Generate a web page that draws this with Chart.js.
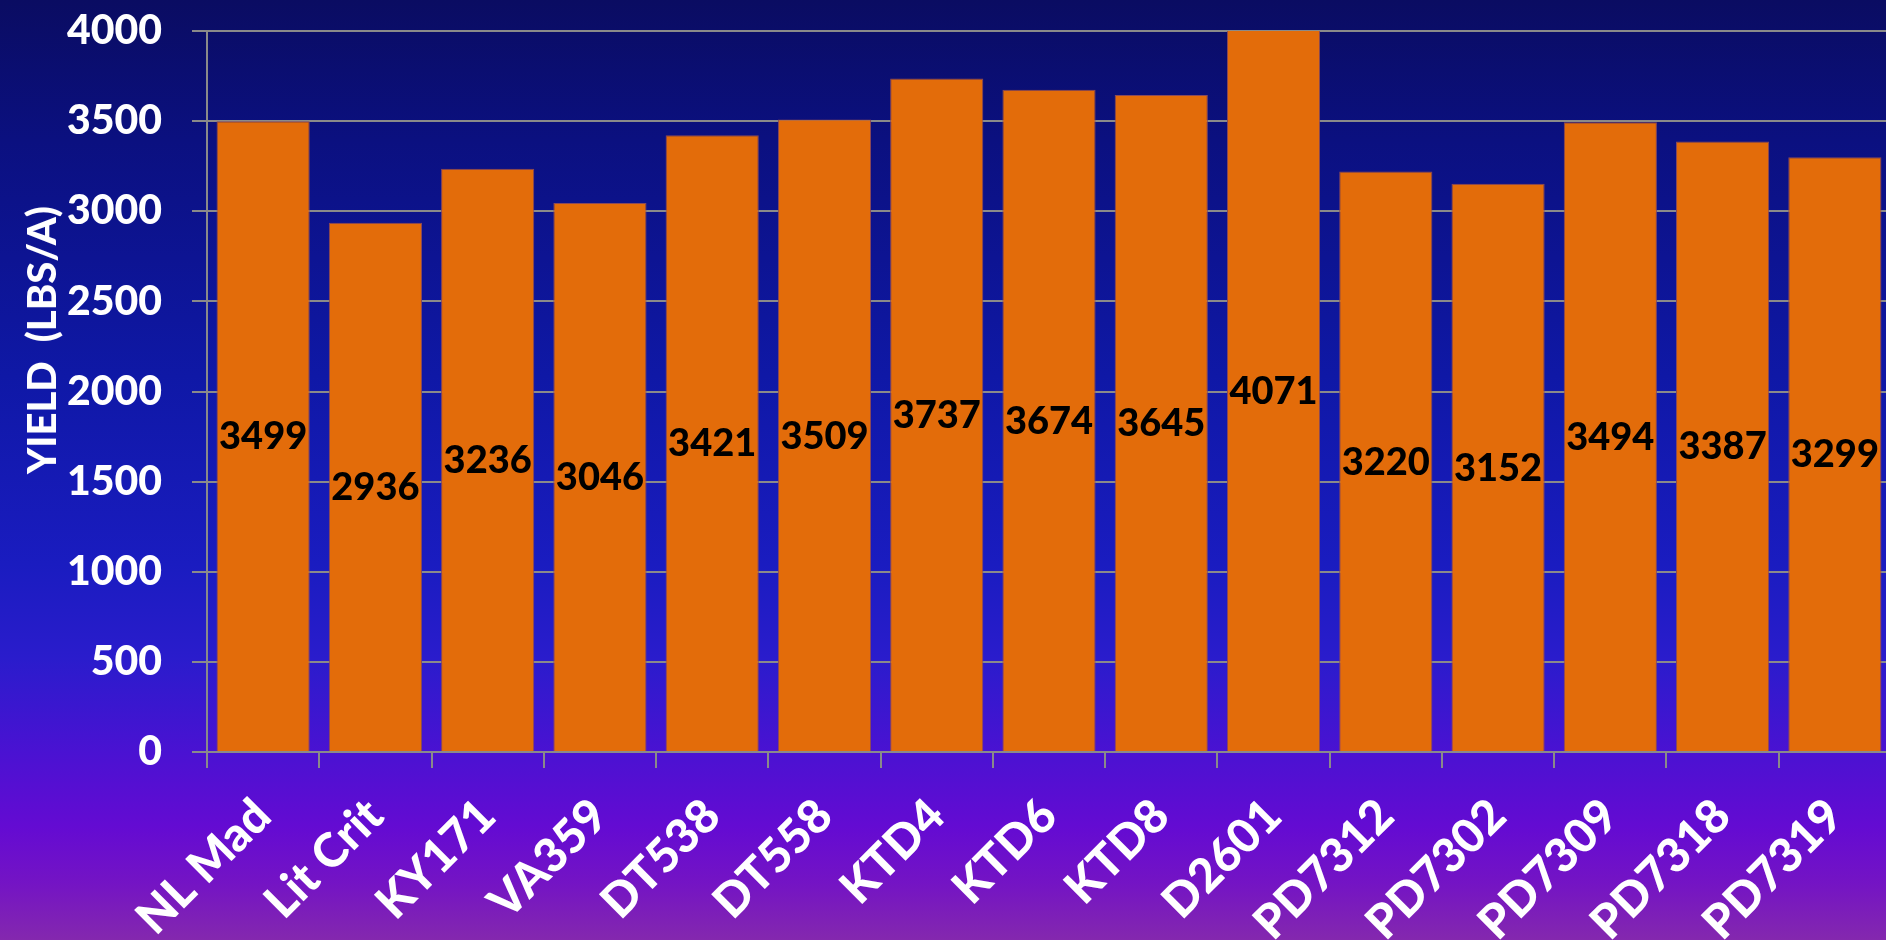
<!DOCTYPE html>
<html lang="en">
<head>
  <meta charset="UTF-8" />
  <title>Yield (LBS/A)</title>
  <script src="https://cdn.jsdelivr.net/npm/chart.js"></script>
  <style>
    html, body { margin: 0; padding: 0; overflow: hidden; }
    body {
      width: 1886px; height: 940px; position: relative;
      background: linear-gradient(to bottom,
        #0a0c62 0%, #0b1080 15%, #0f18a6 40%, #1a1cc0 60%, #2a1ccc 70%,
        #4a12d2 80%, #640bd2 88%, #7414c4 94%, #8428ae 100%);
      font-family: Lato, "Open Sans", sans-serif;
    }
    .chart-box { position: absolute; left: 0; top: 0; width: 1891px; height: 940px; }
    .y-title {
      position: absolute; left: 41px; top: 340px;
      transform: translate(-50%, -50%) rotate(-90deg);
      color: #fff; font-weight: 900; font-size: 40px; white-space: pre;
    }
  </style>
</head>
<body>
  <div class="chart-box"><canvas id="yieldChart"></canvas></div>
  <div class="y-title">YIELD  (LBS/A)</div>

  <script>
    // Sorten und Erträge
    const varieties = ['NL Mad', 'Lit Crit', 'KY171', 'VA359', 'DT538', 'DT558', 'KTD4', 'KTD6',
                       'KTD8', 'D2601', 'PD7312', 'PD7302', 'PD7309', 'PD7318', 'PD7319'];
    const yields    = [3499, 2936, 3236, 3046, 3421, 3509, 3737, 3674,
                       3645, 4071, 3220, 3152, 3494, 3387, 3299];
    const yMin = 0, yMax = 4000, yStep = 500;

    // Werte mittig in den (sichtbaren) Balken schreiben
    const barValues = {
      id: 'barValues',
      afterDatasetsDraw(chart) {
        const ctx = chart.ctx, area = chart.chartArea;
        const meta = chart.getDatasetMeta(0);
        ctx.save();
        ctx.font = '900 38px Lato, sans-serif';
        ctx.fillStyle = '#000';
        ctx.textAlign = 'center';
        ctx.textBaseline = 'middle';
        meta.data.forEach((bar, i) => {
          const top = Math.max(bar.y, area.top);
          ctx.fillText(String(yields[i]), bar.x, (top + bar.base) / 2 + 1);
        });
        ctx.restore();
      }
    };

    new Chart(document.getElementById('yieldChart').getContext('2d'), {
      type: 'bar',
      data: {
        labels: varieties,
        datasets: [{
          data: yields,
          backgroundColor: '#e36c0a',
          borderColor: '#8a4a5a',
          borderWidth: 1,
          barPercentage: 0.83,
          categoryPercentage: 1.0
        }]
      },
      options: {
        responsive: true,
        maintainAspectRatio: false,
        animation: false,
        layout: { padding: { top: 31, right: 0, left: 0, bottom: 0 } },
        plugins: { legend: { display: false }, tooltip: { enabled: false } },
        scales: {
          x: {
            // feste Höhe, Plotfläche läuft rechts bis zum Rand
            afterFit(s) { s.height = 188; s.paddingLeft = 0; s.paddingRight = 0; },
            grid: { drawOnChartArea: false, drawTicks: true, tickLength: 16, color: '#8a8a8a', lineWidth: 2 },
            border: { color: '#8a8a8a', width: 2 },
            ticks: {
              color: '#fff', font: { family: 'Lato', weight: '900', size: 47 },
              maxRotation: 45, minRotation: 45, padding: 20, autoSkip: false
            }
          },
          y: {
            min: yMin, max: yMax,
            // Breite fest, kein Zusatzabstand oben/unten durch die Tick-Labels
            afterFit(s) { s.width = 207; s.paddingTop = 0; s.paddingBottom = 0; },
            grid: { color: '#8a8a8a', lineWidth: 2, tickLength: 15 },
            border: { color: '#8a8a8a', width: 2 },
            ticks: {
              stepSize: yStep, color: '#fff', padding: 30,
              font: { family: 'Lato', weight: '900', size: 41 },
              callback: v => String(v)
            }
          }
        }
      },
      plugins: [barValues]
    });
  </script>
</body>
</html>
